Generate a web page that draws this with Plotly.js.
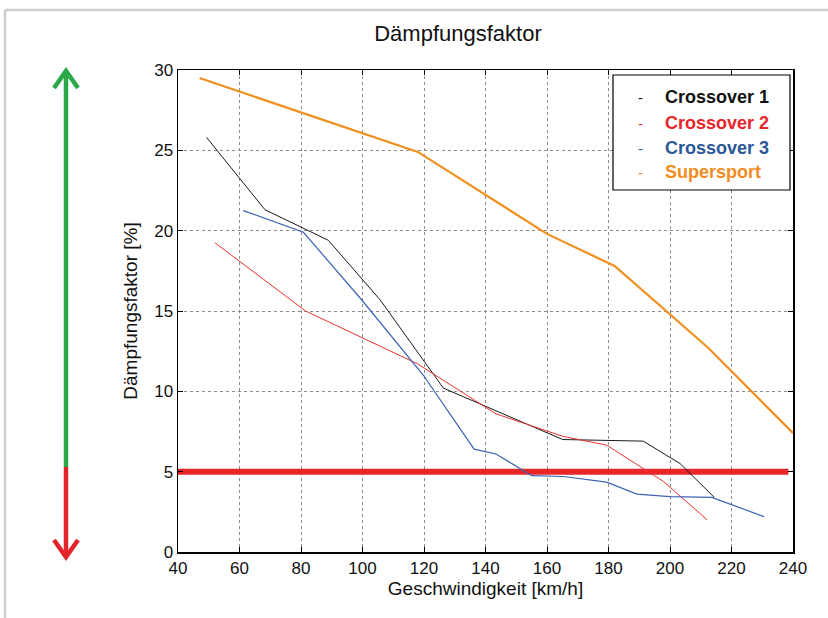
<!DOCTYPE html>
<html>
<head>
<meta charset="utf-8">
<script src="https://cdn.plot.ly/plotly-3.0.1.min.js"></script>
<style>
html,body{margin:0;padding:0;background:#fff;}
#chart{width:828px;height:618px;}
</style>
</head>
<body>
<div id="chart"></div>
<script>
// ---- data ----
const seriesNames = ["Crossover 1", "Crossover 2", "Crossover 3", "Supersport"];

const crossover1X = [49.3, 68.3, 88.9, 105.7, 126.3, 165.1, 191.3, 203.3, 214.4];
const crossover1Y = [25.8, 21.3, 19.4, 15.7, 10.2, 7.0, 6.9, 5.5, 3.4];

const crossover2X = [52, 81.5, 118, 143.4, 165.1, 179.4, 197.8, 212.1];
const crossover2Y = [19.25, 15.0, 11.7, 8.6, 7.2, 6.65, 4.4, 2.0];

const crossover3X = [61.2, 80.8, 99.7, 119.8, 136.3, 143.4, 155, 165.3, 179.4, 189.2, 200, 213.6, 230.6];
const crossover3Y = [21.25, 19.9, 15.7, 11.0, 6.4, 6.1, 4.75, 4.7, 4.35, 3.6, 3.45, 3.4, 2.2];

const supersportX = [47, 118, 160, 182, 212.5, 240];
const supersportY = [29.5, 24.9, 19.8, 17.8, 12.7, 7.4];

const thresholdX = [40, 238.5];
const thresholdY = [5, 5];

const xTicks = [40, 60, 80, 100, 120, 140, 160, 180, 200, 220, 240];
const yTicks = [0, 5, 10, 15, 20, 25, 30];

// ---- styling ----
const FONT = "Liberation Sans, Arial, sans-serif";
const colors = ["#1a1a1a", "#ee3030", "#3b62b5", "#f0901e"];
const textColors = ["#111111", "#e8262a", "#2b5797", "#f28c1e"];
const widths = [1, 1, 1.2, 2.2];

const W = 828, H = 618;
const L = 178, R = 35, T = 70, B = 66;
const PW = W - L - R, PH = H - T - B;
const px = v => (v - L) / PW;          // pixel x -> paper x
const py = v => (H - B - v) / PH;      // pixel y -> paper y

const xs = [crossover1X, crossover2X, crossover3X, supersportX];
const ys = [crossover1Y, crossover2Y, crossover3Y, supersportY];

const traces = [{
  x: thresholdX, y: thresholdY, mode: "lines", showlegend: false,
  line: {color: "#e8262a", width: 6}, hoverinfo: "skip"
}];
seriesNames.forEach((n, i) => {
  traces.push({
    x: xs[i], y: ys[i], name: n, mode: "lines", showlegend: false,
    line: {color: colors[i], width: widths[i]}
  });
});

const shapes = [
  // page frame (top and left)
  {type: "line", xref: "paper", yref: "paper", x0: px(5), x1: px(828), y0: py(10), y1: py(10), line: {color: "#cdcdd2", width: 2.5}},
  {type: "line", xref: "paper", yref: "paper", x0: px(5), x1: px(5), y0: py(10), y1: py(618), line: {color: "#cdcdd2", width: 2.5}},
  // green arrow
  {type: "line", xref: "paper", yref: "paper", x0: px(66), x1: px(66), y0: py(467), y1: py(72), line: {color: "#2ba84a", width: 4.5}},
  {type: "path", xref: "paper", yref: "paper",
   path: `M ${px(54)},${py(88)} L ${px(66)},${py(71)} L ${px(78)},${py(88)}`, line: {color: "#2ba84a", width: 4.5}},
  // red arrow
  {type: "line", xref: "paper", yref: "paper", x0: px(66), x1: px(66), y0: py(467), y1: py(556), line: {color: "#e3242b", width: 4.5}},
  {type: "path", xref: "paper", yref: "paper",
   path: `M ${px(54)},${py(540)} L ${px(66)},${py(557)} L ${px(78)},${py(540)}`, line: {color: "#e3242b", width: 4.5}},
  // legend box
  {type: "rect", xref: "paper", yref: "paper", layer: "above",
   x0: px(613), x1: px(790), y0: py(190), y1: py(75), fillcolor: "#ffffff", line: {color: "#000", width: 1.2}}
];

const legendRows = [97, 123, 148, 172];
const annotations = [];
seriesNames.forEach((n, i) => {
  annotations.push({xref: "paper", yref: "paper", x: px(640), y: py(legendRows[i]), text: "-",
    showarrow: false, xanchor: "center", yanchor: "middle", font: {family: FONT, size: 15, color: colors[i]}});
  annotations.push({xref: "paper", yref: "paper", x: px(663), y: py(legendRows[i]), text: "<b>" + n + "</b>",
    showarrow: false, xanchor: "left", yanchor: "middle", font: {family: FONT, size: 18, color: textColors[i]}});
});

const axisCommon = {
  showline: true, linecolor: "#000", linewidth: 1.5, mirror: "ticks",
  ticks: "inside", ticklen: 5, tickcolor: "#000", tickwidth: 1,
  showgrid: true, gridcolor: "#8c8c8c", griddash: "dot", gridwidth: 1,
  zeroline: false, tickfont: {family: FONT, size: 17, color: "#111"}
};

const layout = {
  width: W, height: H,
  margin: {l: L, r: R, t: T, b: B, pad: 0},
  paper_bgcolor: "#fff", plot_bgcolor: "#fff",
  font: {family: FONT, color: "#111"},
  showlegend: false,
  title: {text: "Dämpfungsfaktor", font: {family: FONT, size: 22, color: "#111"},
          xref: "container", yref: "container", x: 458 / W, y: 1 - 33 / H, xanchor: "center", yanchor: "middle"},
  xaxis: Object.assign({}, axisCommon, {
    range: [40, 240], tickvals: xTicks, ticktext: xTicks.map(String),
    title: {text: "Geschwindigkeit [km/h]", font: {family: FONT, size: 19, color: "#111"}, standoff: 4}
  }),
  yaxis: Object.assign({}, axisCommon, {
    range: [0, 30], tickvals: yTicks, ticktext: yTicks.map(String),
    title: {text: "Dämpfungsfaktor [%]", font: {family: FONT, size: 19, color: "#111"}, standoff: 11}
  }),
  shapes: shapes,
  annotations: annotations
};

Plotly.newPlot("chart", traces, layout, {displayModeBar: false, staticPlot: true});
</script>
</body>
</html>
